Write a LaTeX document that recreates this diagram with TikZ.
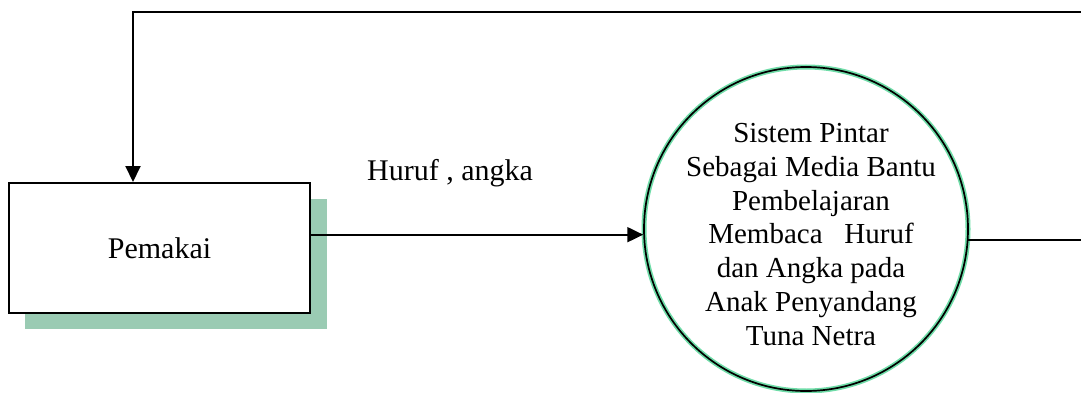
\documentclass[tikz,border=0pt]{standalone}
\usepackage{fontspec}
\setmainfont{Liberation Serif}
\usetikzlibrary{arrows.meta}
\definecolor{shadowgreen}{HTML}{9ACBB3}
\definecolor{ringmint}{HTML}{6FDCA8}
\tikzset{
  entity/.style={draw=black, line width=2pt, fill=white, minimum width=301pt,
    minimum height=130pt, inner sep=0pt, font=\fontsize{30}{34.5}\selectfont},
  process/.style={circle, draw=black, line width=1.7pt, minimum size=324pt, inner sep=0pt,
    preaction={draw=ringmint, line width=5pt}},
  proctext/.style={align=center, inner sep=0pt, font=\fontsize{29}{33.7}\selectfont},
  flowlabel/.style={inner sep=0pt, font=\fontsize{30}{34.5}\selectfont},
  flow/.style={draw=black, line width=2pt, -{Triangle[length=16pt, width=15pt]}},
  plainflow/.style={draw=black, line width=2pt}
}
\begin{document}
\begin{tikzpicture}[x=1pt, y=-1pt]
  \useasboundingbox (0,0) rectangle (1081,393);
  % external entity with its drop shadow
  \fill[shadowgreen] (25,199) rectangle (327,329);
  \node[entity] (user) at (159.5,248) {Pemakai};
  % process bubble
  \node[process] (proc) at (806,229) {};
  \node[proctext, anchor=north] (proclabel) at (811,123.4)
    {Sistem Pintar\\Sebagai Media Bantu\\Pembelajaran\\Membaca~~~Huruf\\dan Angka pada\\Anak Penyandang\\Tuna Netra};
  % data flows
  \draw[flow] (user.east |- proc.182) -- (proc.182);
  \node[flowlabel, anchor=base] (inlabel) at (450,180) {Huruf , angka};
  \coordinate (outend) at (1090,241.5);
  \draw[plainflow] (proc.-4.4) -- (proc.-4.4 -| outend);
  \coordinate (backstart) at (1090,12);
  \coordinate (backcorner) at (133,12);
  \draw[flow] (backstart) -- (backcorner) -- (backcorner |- user.north);
\end{tikzpicture}
\end{document}
